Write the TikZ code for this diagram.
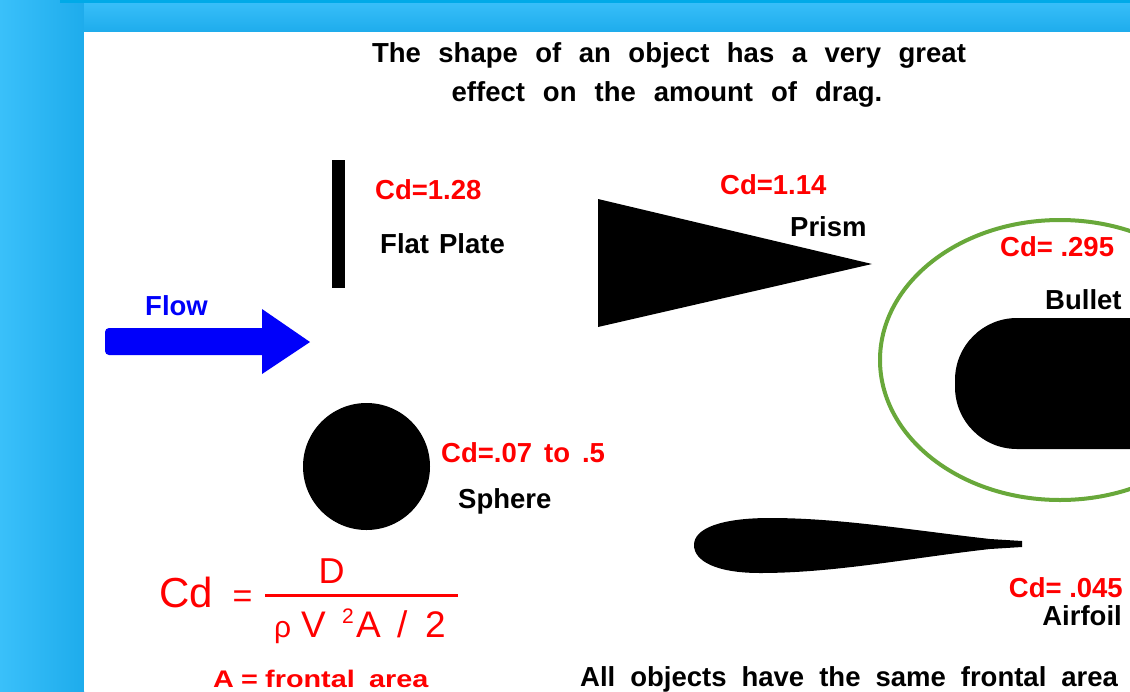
\documentclass[tikz,border=0pt]{standalone}
\usepackage{fontspec}
\setmainfont{Liberation Sans}
\definecolor{cdred}{RGB}{255,0,0}
\definecolor{flowblue}{RGB}{0,0,250}
\definecolor{ringgreen}{RGB}{104,168,58}
\definecolor{bgblueA}{RGB}{58,192,250}
\definecolor{bgblueB}{RGB}{30,172,236}
\definecolor{topstripe}{RGB}{0,170,232}
\begin{document}
\begin{tikzpicture}[x=1pt,y=-1pt,
  lbl/.style={inner sep=0pt, font=\fontsize{27.5}{30}\selectfont\bfseries},
  cdlbl/.style={lbl, text=cdred},
  formula/.style={inner sep=0pt, text=cdred}]
\useasboundingbox (0,0) rectangle (1130,691);
\clip (0,0) rectangle (1130,691);
% background
\shade[left color=bgblueA, right color=bgblueB] (0,0) rectangle (84,691);
\shade[top color=bgblueA, bottom color=bgblueB] (84,0) rectangle (1130,32);
\fill[topstripe] (60,0) rectangle (1130,3);
\fill[white] (84,32) rectangle (1130,691);
% title
\node[lbl, anchor=base] (t1) at (669,62) {\spaceskip=17.5pt\relax The shape of an object has a very great};
\node[lbl, anchor=base] (t2) at (667,101) {\spaceskip=18pt\relax effect on the amount of drag.};
% flow arrow
\fill[flowblue] (180,328) -- (262,328) -- (262,309) -- (310,342) -- (262,374) -- (262,355)
  [rounded corners=4pt] -- (105,355) -- (105,328) -- cycle;
\node[lbl, text=flowblue, anchor=base west] (flow) at (145,315) {Flow};
% flat plate
\fill (332,160) rectangle (345,288);
\node[cdlbl, anchor=base west] (cd1) at (375,199) {Cd=1.28};
\node[lbl, anchor=base west] (fp) at (380,253) {\spaceskip=10pt\relax Flat Plate};
% prism
\fill (598,199) -- (598,327) -- (872,264) -- cycle;
\node[cdlbl, anchor=base west] (cd2) at (720,194) {Cd=1.14};
\node[lbl, anchor=base west] (prism) at (790,236) {Prism};
% bullet
\draw[ringgreen, line width=4pt] (1060,360) ellipse [x radius=180, y radius=140];
\fill[rounded corners=62pt] (955,318) rectangle (1250,449);
\node[cdlbl, anchor=base west] (cd3) at (1000,256) {Cd= .295};
\node[lbl, anchor=base west] (bullet) at (1045,309) {Bullet};
% sphere
\fill (366.5,466.5) circle[radius=63.5pt];
\node[cdlbl, anchor=base west] (cd4) at (441,462) {\spaceskip=12pt\relax Cd=.07 to .5};
\node[lbl, anchor=base west] (sphere) at (458,508) {Sphere};
% airfoil
\fill (1022,541) -- (1022,547) -- (990,549)
  .. controls (910,558) and (835,573) .. (760,573)
  .. controls (716,573) and (694,561) .. (694,545)
  .. controls (694,528) and (722,518) .. (770,518)
  .. controls (840,518) and (910,530) .. (990,539) -- cycle;
\node[cdlbl, anchor=base east] (cd5) at (1123,597) {Cd= .045};
\node[lbl, anchor=base east] (airfoil) at (1122,625) {Airfoil};
% formula
\node[formula, font=\fontsize{42}{46}\selectfont, anchor=base west] (cd) at (159,607) {Cd};
\node[formula, font=\fontsize{34}{38}\selectfont, anchor=base] (eq) at (242.5,607) {=};
\draw[cdred, line width=3pt] (265,595) -- (458,595);
\node[formula, font=\fontsize{36}{40}\selectfont, anchor=base] (num) at (331.5,583) {D};
\node[formula, font=\fontsize{30}{34}\selectfont, anchor=base west] (rho) at (274,637) {ρ};
\node[formula, font=\fontsize{37}{40}\selectfont, anchor=base west] (vv) at (301,637) {V};
\node[formula, font=\fontsize{21}{24}\selectfont, anchor=base west] (sq) at (342,623) {2};
\node[formula, font=\fontsize{37}{40}\selectfont, anchor=base west] (aa) at (356,637) {A};
\node[formula, font=\fontsize{37}{40}\selectfont, anchor=base west] (sl) at (397,637) {/};
\node[formula, font=\fontsize{37}{40}\selectfont, anchor=base west] (two) at (425,637) {2};
\node[formula, font=\fontsize{24}{28}\selectfont\bfseries, anchor=base west] (area) at (213,687)
  {\scalebox{1.2}[1]{\spaceskip=6pt\relax A = frontal\hspace{6pt} area}};
% bottom note
\node[lbl, anchor=base west] (note) at (580,686) {\spaceskip=15pt\relax All objects have the same frontal area};
\end{tikzpicture}
\end{document}
